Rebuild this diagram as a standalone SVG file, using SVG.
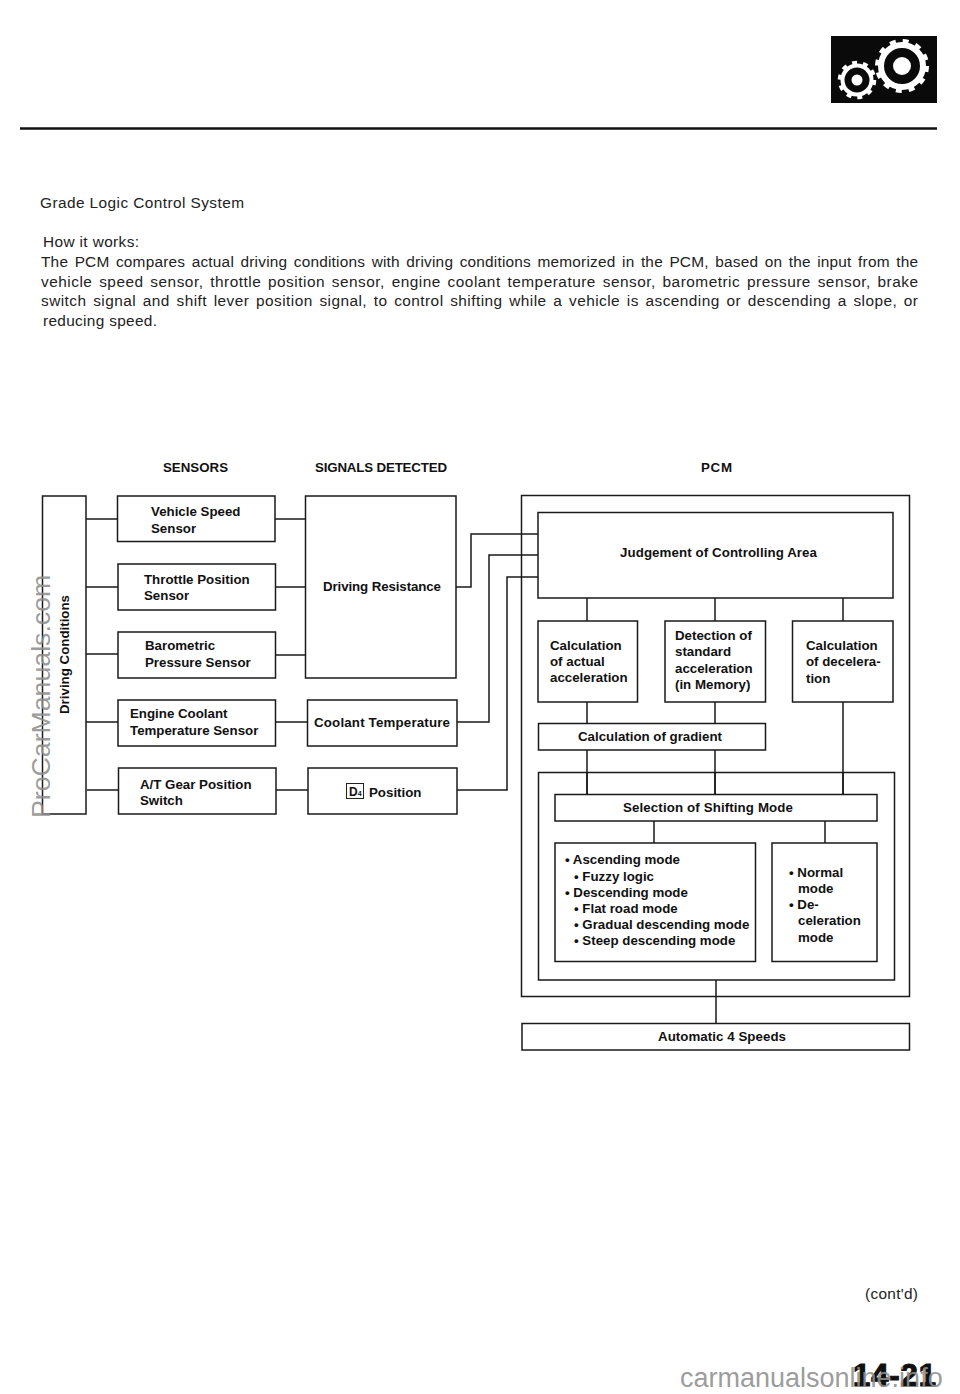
<svg xmlns="http://www.w3.org/2000/svg" width="960" height="1394" viewBox="0 0 960 1394">
<style>
.box{fill:#fff;stroke:#1a1a1a;stroke-width:1.5}
.c{fill:none;stroke:#1a1a1a;stroke-width:1.5}
text{font-family:"Liberation Sans",Arial,sans-serif;fill:#111}
.b{font-weight:700;font-size:13.3px}
.p{font-size:15.4px;fill:#222}
.j{word-spacing:2px}
.wm{fill:#8f8f8f;fill-opacity:.9}
</style>
<rect width="960" height="1394" fill="#fff"/>
<g id="page-header">
<rect x="831" y="36" width="106" height="67" fill="#0a0a0a"/>
<g fill="none" stroke="#fff">
<circle cx="902" cy="66" r="21" stroke-width="6"/>
<circle cx="902" cy="66" r="25" stroke-width="4" stroke-dasharray="6 7.090"/>
<circle cx="857" cy="80" r="14.500" stroke-width="4"/>
<circle cx="857" cy="80" r="17.500" stroke-width="3.500" stroke-dasharray="5 6"/>
</g>
<circle cx="902" cy="66" r="9" fill="#fff"/>
<circle cx="857" cy="80" r="5.500" fill="#fff"/>
<path d="M20 128.500H937" stroke="#111" stroke-width="2.500"/>
</g>
<g id="intro">
<text class="p" x="40" y="208" textLength="204">Grade Logic Control System</text>
<text class="p" x="43" y="247" textLength="96">How it works:</text>
<text class="p j" x="41" y="267" textLength="877">The PCM compares actual driving conditions with driving conditions memorized in the PCM, based on the input from the</text>
<text class="p j" x="41" y="287" textLength="877">vehicle speed sensor, throttle position sensor, engine coolant temperature sensor, barometric pressure sensor, brake</text>
<text class="p j" x="41" y="306" textLength="877">switch signal and shift lever position signal, to control shifting while a vehicle is ascending or descending a slope, or</text>
<text class="p" x="43" y="326" textLength="114">reducing speed.</text>
</g>
<g id="connectors">
<path class="c" d="M86 519H117M86 587H118M86 654H118M86 722H118M87 790H118"/>
<path class="c" d="M275 519H305M275 587H306M275 655H306M275 722H307M276 790H308"/>
<path class="c" d="M456 587H471V534H538M457 722H489V555H538M457 790H507V577H538"/>
<path class="c" d="M587 598V621M715 598V621M843 598V621"/>
<path class="c" d="M587 702V724M715 702V724M843 702V794"/>
<path class="c" d="M587 750V794M715 750V794"/>
<path class="c" d="M654 821V843M825 821V843M716 980V1024"/>
</g>
<g id="headers">
<text class="b" x="163" y="472" textLength="65">SENSORS</text>
<text class="b" x="315" y="472" textLength="132">SIGNALS DETECTED</text>
<text class="b" x="701" y="472" textLength="31">PCM</text>
</g>
<g id="driving-conditions"><rect class="box" x="42.500" y="496" width="43.500" height="318"/>
<text class="b" transform="translate(68.500 714) rotate(-90)" textLength="119">Driving Conditions</text></g>
<g id="vehicle-speed-sensor"><rect class="box" x="117.500" y="496" width="157.500" height="45.500"/>
<text class="b"><tspan x="151" y="516">Vehicle Speed</tspan><tspan x="151" y="533">Sensor</tspan></text></g>
<g id="throttle-position-sensor"><rect class="box" x="118" y="564" width="157.500" height="46"/>
<text class="b"><tspan x="144" y="584">Throttle Position</tspan><tspan x="144" y="600">Sensor</tspan></text></g>
<g id="barometric-pressure-sensor"><rect class="box" x="118" y="632" width="157.500" height="46"/>
<text class="b"><tspan x="145" y="650">Barometric</tspan><tspan x="145" y="667">Pressure Sensor</tspan></text></g>
<g id="engine-coolant-temperature-sensor"><rect class="box" x="118" y="700" width="157.500" height="46"/>
<text class="b"><tspan x="130" y="718">Engine Coolant</tspan><tspan x="130" y="735">Temperature Sensor</tspan></text></g>
<g id="gear-position-switch"><rect class="box" x="118.500" y="768" width="157.500" height="46"/>
<text class="b"><tspan x="140" y="789">A/T Gear Position</tspan><tspan x="140" y="805">Switch</tspan></text></g>
<g id="driving-resistance"><rect class="box" x="305.500" y="496" width="150.500" height="182"/>
<text class="b" x="323" y="591" textLength="118">Driving Resistance</text></g>
<g id="coolant-temperature"><rect class="box" x="307.500" y="700" width="149.500" height="46"/>
<text class="b" x="314" y="727" textLength="136">Coolant Temperature</text></g>
<g id="d4-position"><rect class="box" x="308" y="768" width="149" height="46"/>
<rect x="346.500" y="783.500" width="17" height="15" fill="none" stroke="#222" stroke-width="1"/>
<text class="b" x="349" y="796" style="font-size:12px">D<tspan font-size="7">4</tspan></text>
<text class="b" x="369" y="797">Position</text></g>
<g id="pcm"><rect class="c" x="521.500" y="495.500" width="388" height="501"/></g>
<g id="judgement"><rect class="box" x="538" y="512.500" width="355" height="85.500"/>
<text class="b" x="620" y="557" textLength="197">Judgement of Controlling Area</text></g>
<g id="calc-actual"><rect class="box" x="538" y="621" width="99.500" height="81"/>
<text class="b"><tspan x="550" y="650">Calculation</tspan><tspan x="550" y="666">of actual</tspan><tspan x="550" y="682">acceleration</tspan></text></g>
<g id="detection"><rect class="box" x="665" y="621" width="100.500" height="81"/>
<text class="b"><tspan x="675" y="640">Detection of</tspan><tspan x="675" y="656">standard</tspan><tspan x="675" y="673">acceleration</tspan><tspan x="675" y="689">(in Memory)</tspan></text></g>
<g id="calc-decel"><rect class="box" x="792.500" y="621" width="100.500" height="81"/>
<text class="b"><tspan x="806" y="650">Calculation</tspan><tspan x="806" y="666">of decelera-</tspan><tspan x="806" y="683">tion</tspan></text></g>
<g id="calc-gradient"><rect class="box" x="538.500" y="723.500" width="227" height="26.500"/>
<text class="b" x="578" y="741" textLength="144">Calculation of gradient</text></g>
<g id="selection-group"><rect class="c" x="538.500" y="772.500" width="356" height="207.500"/></g>
<g id="connectors-over"><path class="c" d="M587 773V794M715 773V794M843 773V794"/></g>
<g id="selection"><rect class="box" x="555" y="794.500" width="322" height="26.500"/>
<text class="b" x="623" y="812" textLength="170">Selection of Shifting Mode</text></g>
<g id="modes-left"><rect class="box" x="555" y="843" width="200.500" height="118.500"/>
<text class="b"><tspan x="565" y="864">• Ascending mode</tspan><tspan x="574" y="881">• Fuzzy logic</tspan><tspan x="565" y="897">• Descending mode</tspan><tspan x="574" y="913">• Flat road mode</tspan><tspan x="574" y="929">• Gradual descending mode</tspan><tspan x="574" y="945">• Steep descending mode</tspan></text></g>
<g id="modes-right"><rect class="box" x="772" y="843" width="105" height="118.500"/>
<text class="b"><tspan x="789" y="877">• Normal</tspan><tspan x="798" y="893">mode</tspan><tspan x="789" y="909">• De-</tspan><tspan x="798" y="925">celeration</tspan><tspan x="798" y="942">mode</tspan></text></g>
<g id="automatic"><rect class="box" x="522" y="1023.500" width="387.500" height="26.500"/>
<text class="b" x="658" y="1041" textLength="128">Automatic 4 Speeds</text></g>
<g id="footer">
<text class="p" x="865" y="1299" textLength="53">(cont'd)</text>
<text x="853" y="1386" font-size="31" font-weight="700" stroke="#111" stroke-width="1.200" textLength="83">14-21</text>
</g>
<g id="watermarks">
<text class="wm" font-size="26.700" transform="translate(50 818) rotate(-90)">ProCarManuals.com</text>
<text class="wm" font-size="27" x="680" y="1387">carmanualsonline.info</text>
</g>
</svg>
